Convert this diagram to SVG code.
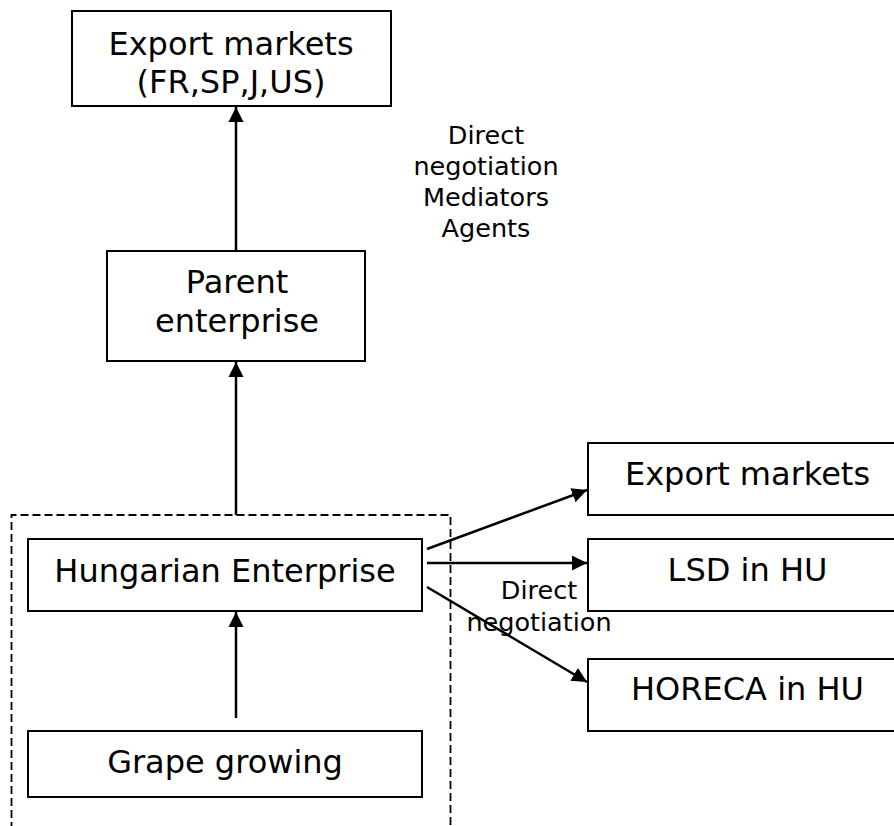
<svg xmlns="http://www.w3.org/2000/svg" width="894" height="826" viewBox="0 0 894 826">
  <style>
    .box { fill: #fff; stroke: #000; stroke-width: 2; }
    .t { font-family: "DejaVu Sans", Verdana, sans-serif; font-size: 32px; fill: #000; text-anchor: middle; }
    .lbl { font-family: "DejaVu Sans", Verdana, sans-serif; font-size: 25.5px; fill: #000; text-anchor: middle; }
    .conn { stroke: #000; stroke-width: 2.5; fill: none; marker-end: url(#arr); }
    .dash { stroke: #000; stroke-width: 1.8; fill: none; stroke-dasharray: 8 4; }
  </style>
  <defs>
    <marker id="arr" markerUnits="userSpaceOnUse" markerWidth="16" markerHeight="16" viewBox="0 0 16 16" refX="15" refY="8" orient="auto">
      <path d="M0,0.5 L15,8 L0,15.5 z" fill="#000"/>
    </marker>
  </defs>
  <rect width="894" height="826" fill="#fff"/>

  <g id="boundary">
    <path class="dash" d="M11.5,830 V515 H450.5 V830"/>
  </g>

  <g id="connectors">
    <line class="conn" x1="236" y1="251" x2="236" y2="107"/>
    <line class="conn" x1="236" y1="515" x2="236" y2="362"/>
    <line class="conn" x1="236" y1="718" x2="236" y2="612"/>
    <line class="conn" x1="427" y1="549" x2="587" y2="490"/>
    <line class="conn" x1="427" y1="563" x2="587" y2="563"/>
    <line class="conn" x1="427" y1="587" x2="587" y2="682"/>
  </g>

  <g id="export-markets-top">
    <rect class="box" x="72" y="11" width="319" height="95"/>
    <text class="t" x="231" y="55">Export markets</text>
    <text class="t" x="231" y="93">(FR,SP,J,US)</text>
  </g>

  <g id="label-top">
    <text class="lbl" x="486" y="144">Direct</text>
    <text class="lbl" x="486" y="175">negotiation</text>
    <text class="lbl" x="486" y="206">Mediators</text>
    <text class="lbl" x="486" y="237">Agents</text>
  </g>

  <g id="parent-enterprise">
    <rect class="box" x="107" y="251" width="258" height="110"/>
    <text class="t" x="237" y="293">Parent</text>
    <text class="t" x="237" y="332">enterprise</text>
  </g>

  <g id="hungarian-enterprise">
    <rect class="box" x="28" y="539" width="394" height="72"/>
    <text class="t" x="225" y="582">Hungarian Enterprise</text>
  </g>

  <g id="grape-growing">
    <rect class="box" x="28" y="731" width="394" height="66"/>
    <text class="t" x="225" y="773">Grape growing</text>
  </g>

  <g id="export-markets-right">
    <rect class="box" x="588" y="443" width="330" height="72"/>
    <text class="t" x="747.5" y="485">Export markets</text>
  </g>

  <g id="lsd-hu">
    <rect class="box" x="588" y="539" width="330" height="72"/>
    <text class="t" x="747.5" y="581">LSD in HU</text>
  </g>

  <g id="horeca-hu">
    <rect class="box" x="588" y="659" width="330" height="72"/>
    <text class="t" x="747.5" y="700">HORECA in HU</text>
  </g>

  <g id="label-right">
    <text class="lbl" x="539" y="599">Direct</text>
    <text class="lbl" x="539" y="631">negotiation</text>
  </g>
</svg>
